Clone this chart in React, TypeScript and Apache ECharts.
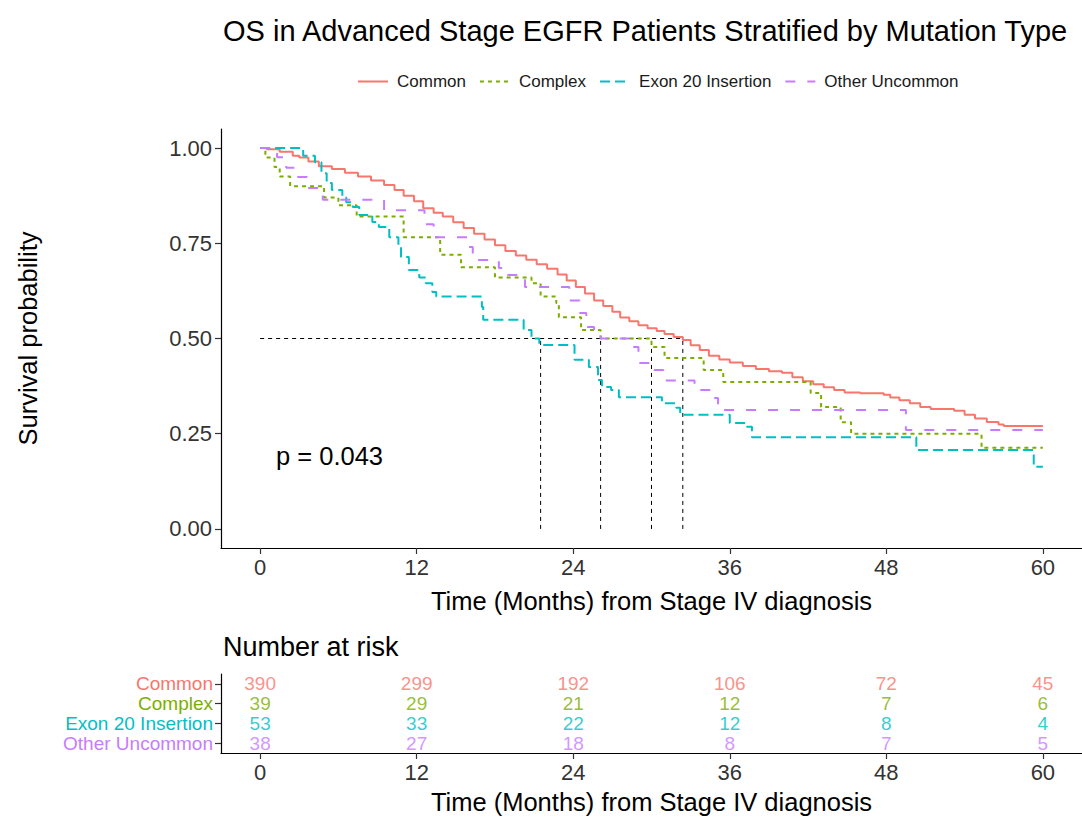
import React, { useEffect, useRef } from "react";
import * as echarts from "echarts";

const groups = ["Common", "Complex", "Exon 20 Insertion", "Other Uncommon"];
const colors = ["#F8766D", "#7CAE00", "#00BFC4", "#C77CFF"];
const dashes: any[] = ["solid", [4, 4], [10, 5], [10, 12]];

const commonCurve: [number, number][] = [
  [0, 1.0], [0.5, 0.997], [1.5, 0.99], [2.5, 0.98], [3, 0.975], [3.7, 0.965], [4.5, 0.952],
  [5.5, 0.945], [6.5, 0.935], [7.5, 0.925], [8.5, 0.915], [9.5, 0.903], [10.3, 0.89], [11, 0.875],
  [11.8, 0.86], [12.5, 0.842], [13.3, 0.83], [14, 0.82], [14.8, 0.805], [15.6, 0.79], [16.4, 0.775],
  [17.2, 0.76], [18, 0.745], [18.8, 0.73], [19.6, 0.718], [20.4, 0.707], [21.2, 0.695], [22, 0.683],
  [22.8, 0.668], [23.5, 0.652], [24.2, 0.635], [24.9, 0.618], [25.6, 0.6], [26.3, 0.585], [27, 0.57],
  [27.6, 0.555], [28.3, 0.545], [29, 0.535], [29.7, 0.527], [30.4, 0.52], [31, 0.512], [31.7, 0.504],
  [32.4, 0.496], [33, 0.482], [33.7, 0.47], [34.4, 0.455], [35.2, 0.445], [36, 0.437], [37, 0.428],
  [38, 0.42], [39, 0.414], [40, 0.41], [40.8, 0.398], [41.6, 0.388], [42.4, 0.38], [43.2, 0.372],
  [44, 0.365], [44.8, 0.358], [46, 0.356], [47.8, 0.352], [48.3, 0.345], [49, 0.338], [49.8, 0.33],
  [50.6, 0.32], [51.4, 0.315], [53.2, 0.31], [54, 0.3], [54.8, 0.29], [55.7, 0.281], [56.6, 0.274],
  [57, 0.27], [60, 0.27],
];

const complexCurve: [number, number][] = [
  [0, 1.0], [0.4, 0.975], [1.1, 0.95], [1.5, 0.925], [2.3, 0.9], [4.9, 0.87], [6, 0.85], [7.4, 0.82],
  [11, 0.766], [13.8, 0.72], [15.4, 0.687], [18, 0.66], [20.8, 0.645], [21.5, 0.61], [22.7, 0.593],
  [22.9, 0.556], [24.6, 0.522], [26.1, 0.5], [30, 0.478], [31, 0.449], [34, 0.417], [35.5, 0.386],
  [42.2, 0.357], [43, 0.32], [44.5, 0.28], [45.3, 0.25], [55.3, 0.213], [60, 0.213],
];

const exonCurve: [number, number][] = [
  [0, 1.0], [3.3, 0.98], [4.2, 0.963], [4.7, 0.934], [5.1, 0.908], [5.5, 0.89], [6.3, 0.87],
  [6.6, 0.858], [7.1, 0.845], [7.6, 0.824], [8.6, 0.806], [9.1, 0.793], [9.9, 0.766], [10.6, 0.745],
  [10.8, 0.714], [11.4, 0.68], [12.2, 0.66], [12.7, 0.645], [13.2, 0.622], [13.5, 0.61], [17, 0.583],
  [17.1, 0.549], [20.2, 0.522], [20.8, 0.5], [21.4, 0.483], [24.1, 0.444], [25.2, 0.425], [25.9, 0.391],
  [26.2, 0.373], [26.9, 0.365], [27.5, 0.346], [30.8, 0.33], [31.9, 0.318], [32.2, 0.3], [36, 0.278],
  [37.3, 0.268], [37.7, 0.241], [50.3, 0.207], [59.3, 0.163], [60, 0.163],
];

const otherCurve: [number, number][] = [
  [0, 1.0], [1, 0.995], [1.3, 0.976], [2, 0.948], [2.9, 0.924], [3.6, 0.895], [4.6, 0.885],
  [4.8, 0.864], [9.5, 0.837], [12.6, 0.8], [13.3, 0.766], [16, 0.74], [16.3, 0.706], [18.3, 0.685],
  [18.8, 0.667], [19.9, 0.654], [20.3, 0.635], [23.7, 0.6], [24.5, 0.567], [25, 0.53], [25.6, 0.514],
  [26.1, 0.5], [28.4, 0.478], [29, 0.436], [30.2, 0.417], [30.9, 0.39], [33.3, 0.365], [34.7, 0.344],
  [35.1, 0.312], [49.5, 0.26], [60, 0.26],
];

const curves = [commonCurve, complexCurve, exonCurve, otherCurve];

const medianTimes = [21.5, 26.1, 30.0, 32.4];
const medianLevel = 0.5;
const pValueText = "p = 0.043";

const riskTimes = [0, 12, 24, 36, 48, 60];
const riskCommon = [390, 299, 192, 106, 72, 45];
const riskComplex = [39, 29, 21, 12, 7, 6];
const riskExon = [53, 33, 22, 12, 8, 4];
const riskOther = [38, 27, 18, 8, 7, 5];
const riskCounts = [riskCommon, riskComplex, riskExon, riskOther];

const xTicks = [0, 12, 24, 36, 48, 60];
const yTicks = [0, 0.25, 0.5, 0.75, 1.0];

const FONT = "'Liberation Sans', Arial, Helvetica, sans-serif";
const xTitle = "Time (Months) from Stage IV diagnosis";

export default function App() {
  const ref = useRef<HTMLDivElement>(null);

  useEffect(() => {
    document.body.style.margin = "0";
    if (!ref.current) return;
    const chart = echarts.init(ref.current, undefined, { renderer: "svg" });

    const axisLineStyle = { color: "#000", width: 1.2 };
    const tickStyle = { color: "#333", width: 1.2 };

    const kmSeries = groups.map((g, i) => ({
      name: g,
      type: "line",
      step: "end",
      xAxisIndex: 0,
      yAxisIndex: 0,
      symbol: "none",
      showSymbol: false,
      data: curves[i],
      lineStyle: { color: colors[i], width: 2, type: dashes[i] },
      itemStyle: { color: colors[i] },
      z: 3,
    }));

    const medianSeries: any[] = [
      {
        name: "median-h",
        type: "line",
        xAxisIndex: 0,
        yAxisIndex: 0,
        symbol: "none",
        data: [[0, medianLevel], [Math.max(...medianTimes), medianLevel]],
        lineStyle: { color: "#000", width: 1, type: [4, 4] },
        z: 2,
      },
      ...medianTimes.map((t, i) => ({
        name: "median-v" + i,
        type: "line",
        xAxisIndex: 0,
        yAxisIndex: 0,
        symbol: "none",
        data: [[t, 0], [t, medianLevel]],
        lineStyle: { color: "#000", width: 1, type: [4, 4] },
        z: 2,
      })),
    ];

    const riskSeries = groups.map((g, i) => ({
      name: "risk-" + g,
      type: "scatter",
      xAxisIndex: 1,
      yAxisIndex: 1,
      symbolSize: 1,
      itemStyle: { color: "rgba(0,0,0,0)" },
      data: riskTimes.map((t, j) => [t, g, riskCounts[i][j]]),
      label: {
        show: true,
        position: "inside",
        formatter: (p: any) => String(p.value[2]),
        color: colors[i],
        fontSize: 19,
        lineHeight: 17,
        fontFamily: FONT,
      },
      silent: true,
    }));

    const rich: any = {};
    groups.forEach((g, i) => {
      rich["g" + i] = { color: colors[i], fontSize: 19, lineHeight: 17, fontFamily: FONT };
    });

    chart.setOption({
      animation: false,
      textStyle: { fontFamily: FONT },
      title: [
        {
          text: "OS in Advanced Stage EGFR Patients Stratified by Mutation Type",
          left: 218,
          top: 11,
          textStyle: { fontSize: 29, fontWeight: "normal", color: "#000", fontFamily: FONT },
        },
        {
          text: "Number at risk",
          left: 218,
          top: 628,
          textStyle: { fontSize: 27, fontWeight: "normal", color: "#000", fontFamily: FONT },
        },
      ],
      legend: {
        data: groups,
        left: 352,
        top: 68,
        itemWidth: 30,
        itemHeight: 14,
        itemGap: 13,
        itemStyle: { opacity: 0 },
        textStyle: { fontSize: 17, color: "#1a1a1a", fontFamily: FONT, padding: [0, 0, 0, 4] },
      },
      grid: [
        { left: 221, top: 674, width: 868, height: 79 },
        { left: 221, top: 129, width: 868, height: 419 },
      ].reverse(),
      xAxis: [
        {
          type: "value",
          gridIndex: 0,
          min: -3,
          max: 63,
          splitLine: { show: false },
          axisLine: { show: true, onZero: false, lineStyle: axisLineStyle },
          axisTick: { show: true, length: 6, customValues: xTicks, lineStyle: tickStyle },
          axisLabel: { customValues: xTicks, fontSize: 22, color: "#333", margin: 8 },
          name: xTitle,
          nameLocation: "middle",
          nameGap: 40,
          nameTextStyle: { fontSize: 25.5, color: "#000" },
        },
        {
          type: "value",
          gridIndex: 1,
          min: -3,
          max: 63,
          splitLine: { show: false },
          axisLine: { show: true, onZero: false, lineStyle: axisLineStyle },
          axisTick: { show: true, length: 6, customValues: xTicks, lineStyle: tickStyle },
          axisLabel: { customValues: xTicks, fontSize: 22, color: "#333", margin: 8 },
          name: xTitle,
          nameLocation: "middle",
          nameGap: 36,
          nameTextStyle: { fontSize: 25.5, color: "#000" },
        },
      ],
      yAxis: [
        {
          type: "value",
          gridIndex: 0,
          min: -0.05,
          max: 1.05,
          splitLine: { show: false },
          axisLine: { show: true, onZero: false, lineStyle: axisLineStyle },
          axisTick: { show: true, length: 6, customValues: yTicks, lineStyle: tickStyle },
          axisLabel: {
            customValues: yTicks,
            formatter: (v: number) => v.toFixed(2),
            fontSize: 22,
            color: "#333",
            margin: 9,
          },
          name: "Survival probability",
          nameLocation: "middle",
          nameRotate: 90,
          nameGap: 180,
          nameTextStyle: { fontSize: 25.5, color: "#000" },
        },
        {
          type: "category",
          gridIndex: 1,
          data: groups,
          inverse: true,
          boundaryGap: true,
          splitLine: { show: false },
          axisLine: { show: true, onZero: false, lineStyle: axisLineStyle },
          axisTick: { show: true, length: 6, alignWithLabel: true, interval: 0, lineStyle: tickStyle },
          axisLabel: {
            interval: 0,
            formatter: (v: string) => {
              const i = groups.indexOf(v);
              return `{g${i}|${v}}`;
            },
            rich,
            margin: 8,
          },
        },
      ],
      graphic: [
        {
          type: "text",
          x: 276,
          y: 456,
          style: {
            text: pValueText,
            fontSize: 25.5,
            fontFamily: FONT,
            fill: "#000",
            verticalAlign: "middle",
            align: "left",
          },
        },
      ],
      series: [...medianSeries, ...kmSeries, ...riskSeries],
    });

    return () => chart.dispose();
  }, []);

  return <div ref={ref} style={{ width: 1082, height: 817 }} />;
}
